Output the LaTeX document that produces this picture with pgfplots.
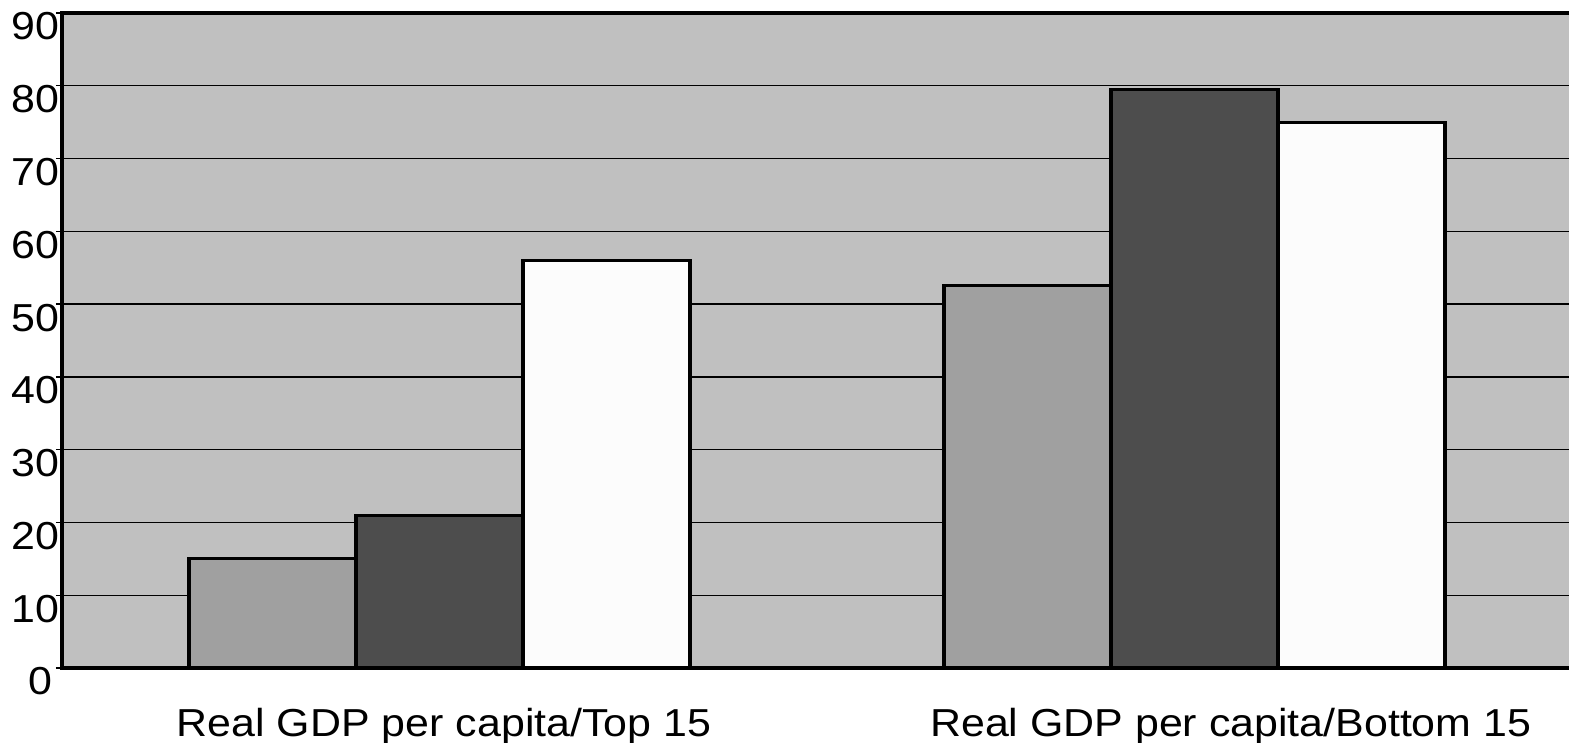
\documentclass[border=0pt]{standalone}
\usepackage{fontspec}
\setmainfont{Liberation Sans}[FakeStretch=1.1]
\usepackage{pgfplots}
\pgfplotsset{compat=1.18}

\definecolor{plotbg}{HTML}{C0C0C0}
\definecolor{barlight}{HTML}{A0A0A0}
\definecolor{bardark}{HTML}{4D4D4D}
\definecolor{barwhite}{HTML}{FCFCFC}

\begin{document}
\fontsize{11.1}{13}\selectfont
\begin{tikzpicture}
\begin{axis}[
    scale only axis,
    width=15.11cm, height=6.55cm,
    xmin=-0.5, xmax=1.5013,
    ymin=0, ymax=90,
    ybar=0pt,
    bar width=0.2212,
    axis background/.style={fill=plotbg},
    axis line style={line width=1pt, black},
    /pgf/number format/assume math mode=true,
    ytick={10,20,...,90},
    ymajorgrids=true,
    grid style={line width=0.4pt, black},
    tick align=outside,
    ytick style={line width=0.4pt, black},
    major tick length=0.06cm,
    % labels sit a little off the category centres, as in the original
    xtick={0.006,1.048},
    xticklabels={Real GDP per capita/Top 15, Real GDP per capita/Bottom 15},
    x tick style={draw=none},
    extra x ticks={-0.5,0.5},
    extra x tick labels={},
    extra x tick style={tick style={line width=0.4pt, draw=gray}, major tick length=0.08cm},
    extra y ticks={0},
    extra y tick style={yticklabel style={xshift=-0.07cm}},
    xticklabel style={anchor=north, inner sep=0pt, yshift=-0.34cm},
    yticklabel style={anchor=north east, inner sep=0pt, xshift=0.04cm, yshift=0.01cm},
]
\coordinate (o) at (rel axis cs:0,0);
\addplot[fill=barlight, draw=black, line width=0.9pt] coordinates {(0,15) (1,52.5)};
\addplot[fill=bardark, draw=black, line width=0.9pt] coordinates {(0,21) (1,79.5)};
\addplot[fill=barwhite, draw=black, line width=0.9pt] coordinates {(0,56) (1,75)};
\end{axis}
\pgfresetboundingbox
\path ([shift={(-0.62cm,-0.75cm)}]o) rectangle ([shift={(15.07cm,6.68cm)}]o);
\end{tikzpicture}
\end{document}
